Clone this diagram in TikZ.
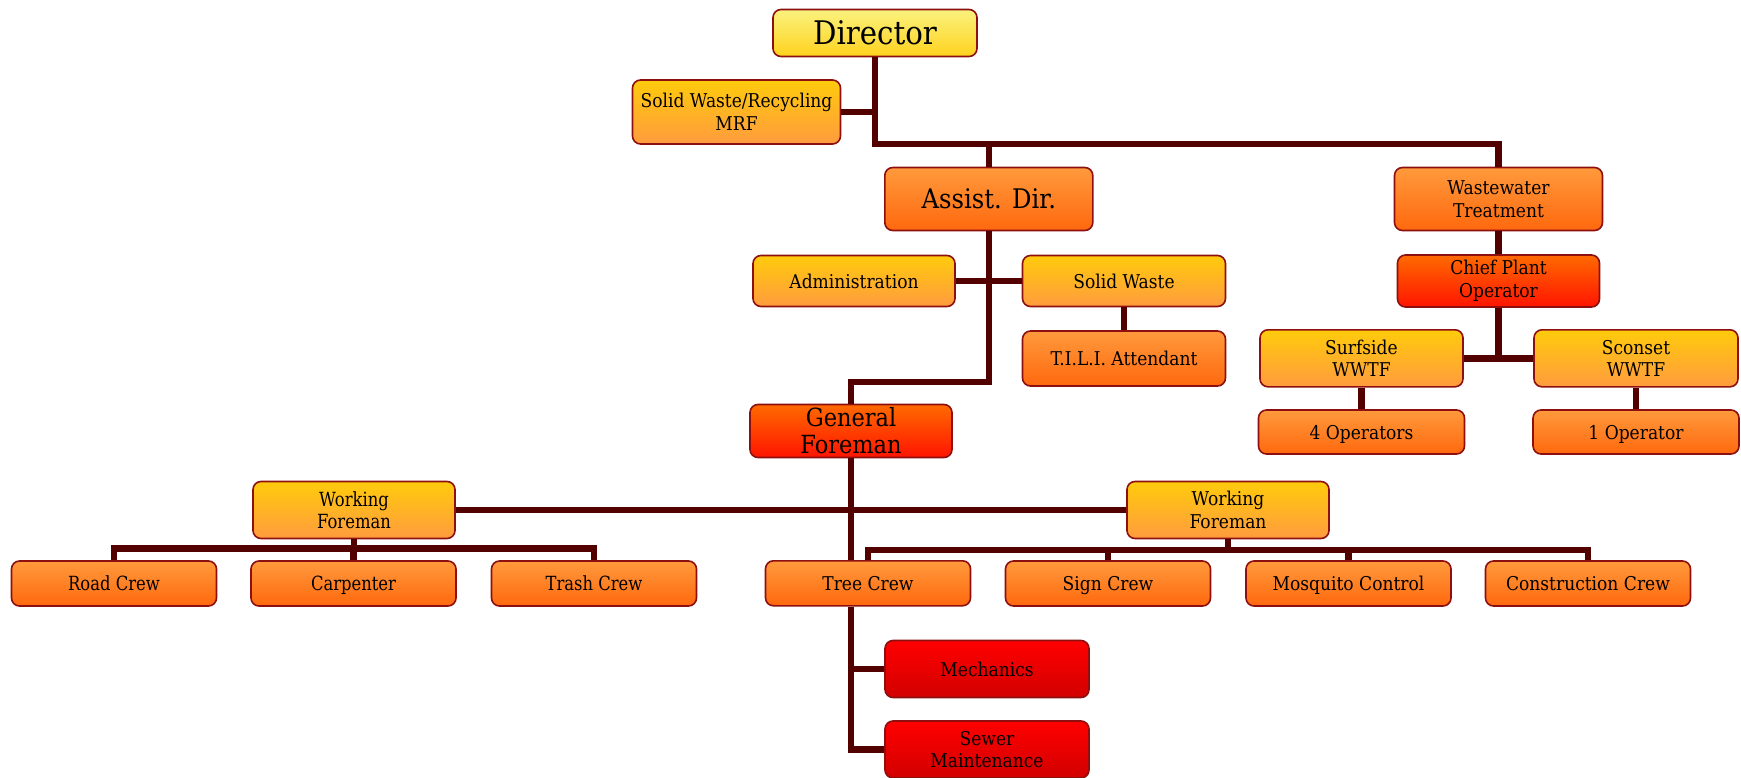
\documentclass[tikz,border=0pt]{standalone}
\usepackage{fontspec}
\setmainfont{DejaVu Serif}[FakeStretch=0.9]
\newfontfamily\condf{DejaVu Serif}[FakeStretch=0.84]
\definecolor{ln}{HTML}{520000}
\definecolor{bd}{HTML}{8E0F0F}
\definecolor{yT}{HTML}{FAF27E}
\definecolor{yB}{HTML}{FFD21E}
\definecolor{gT}{HTML}{FFCB0C}
\definecolor{gB}{HTML}{FF9B3E}
\definecolor{oT}{HTML}{FF9A3C}
\definecolor{oB}{HTML}{FF680E}
\definecolor{rT}{HTML}{FF6A00}
\definecolor{rB}{HTML}{FF1400}
\definecolor{dT}{HTML}{FF0000}
\definecolor{dB}{HTML}{D20000}
\begin{document}
\begin{tikzpicture}[x=1pt,y=-1pt,
  box/.style={draw=bd, line width=1.6pt, rounded corners=8pt, align=center,
    inner sep=0pt, text=black, font=\fontsize{19}{22.5}\selectfont},
  one/.style={text height=16pt, text depth=2pt},
  yel/.style={box, top color=yT, bottom color=yB},
  gold/.style={box, top color=gT, bottom color=gB},
  org/.style={box, top color=oT, bottom color=oB},
  red1/.style={box, top color=rT, bottom color=rB},
  red2/.style={box, top color=dT, bottom color=dB},
  crew/.style={org, one, minimum width=205pt, minimum height=45pt},
  cf/.style={font=\fontsize{19.5}{22.5}\condf},
  conn/.style={draw=ln, line width=6.5pt}]
\useasboundingbox (0,0) rectangle (1741,777);
% top
\node[yel, minimum width=204pt, minimum height=47pt, font=\fontsize{32.5}{36}\selectfont] (dir) at (875,33) {Director};
\node[gold, minimum width=208pt, minimum height=64pt] (mrf) at (736.5,112) {Solid Waste/Recycling\\MRF};
\node[org, minimum width=208pt, minimum height=63pt, font=\fontsize{27}{31}\selectfont] (ad) at (988.8,199) {Assist. Dir.};
\node[org, minimum width=208pt, minimum height=63pt] (ww) at (1498.5,199) {Wastewater\\Treatment};
\node[red1, minimum width=202pt, minimum height=52pt] (cpo) at (1498.5,281) {Chief Plant\\Operator};
\node[gold, minimum width=203pt, minimum height=57pt] (surf) at (1361.5,358.3) {Surfside\\WWTF};
\node[gold, minimum width=204pt, minimum height=57pt] (scon) at (1636,358.3) {Sconset\\WWTF};
\node[org, one, minimum width=206pt, minimum height=44pt] (op4) at (1361.5,432) {4 Operators};
\node[org, one, minimum width=206pt, minimum height=44pt] (op1) at (1636,432) {1 Operator};
\node[gold, one, minimum width=202pt, minimum height=51pt] (adm) at (854,281) {Administration};
\node[gold, one, minimum width=203pt, minimum height=51pt] (sw) at (1124,281) {Solid Waste};
\node[org, one, minimum width=203pt, minimum height=55pt] (tili) at (1124,358.5) {T.I.L.I. Attendant};
\node[red1, minimum width=202pt, minimum height=53pt, font=\fontsize{25}{27}\selectfont] (gf) at (851,431) {General\\Foreman};
\node[gold, minimum width=202pt, minimum height=57pt, cf] (wfl) at (354,510) {Working\\Foreman};
\node[gold, minimum width=202pt, minimum height=57pt] (wfr) at (1228,510) {Working\\Foreman};
\node[crew, cf] (road) at (114,583.5) {Road Crew};
\node[crew, cf] (carp) at (353.5,583.5) {Carpenter};
\node[crew, cf] (trash) at (594,583.5) {Trash Crew};
\node[crew] (tree) at (868,583.3) {Tree Crew};
\node[crew] (sign) at (1108,583.5) {Sign Crew};
\node[crew] (mosq) at (1348.5,583.5) {Mosquito Control};
\node[crew] (cons) at (1588,583.5) {Construction Crew};
\node[red2, one, minimum width=204pt, minimum height=57pt] (mech) at (987,669) {Mechanics};
\node[red2, minimum width=204pt, minimum height=57pt] (sewer) at (987,749.5) {Sewer\\Maintenance};
% connectors
\path (dir.south) ++(0,86.5) coordinate (b1);
\path (ad.south) ++(0,150.5) coordinate (b2);
\path (wfl.south) ++(0,9) coordinate (lb);
\path (wfr.south) ++(0,10.5) coordinate (rb);
\draw[conn] (dir.south) -- (b1) -| (ww.north);
\draw[conn] (ad.north |- b1) -- (ad.north);
\draw[conn] (mrf.east) -- (dir.south |- mrf.east);
\draw[conn] (ad.south) -- (b2) -| (gf.north);
\draw[conn] (adm.east) -- (sw.west);
\draw[conn] (sw.south) -- (tili.north);
\draw[conn] (ww.south) -- (cpo.north);
\draw[conn] (cpo.south) -- (cpo.south |- surf.east);
\draw[conn] (surf.east) -- (scon.west);
\draw[conn] (surf.south) -- (op4.north);
\draw[conn] (scon.south) -- (op1.north);
\draw[conn] (gf.south) -- (gf.south |- tree.north);
\draw[conn] (gf.south |- tree.south) |- (sewer.west);
\draw[conn] (gf.south |- mech.west) -- (mech.west);
\draw[conn] (wfl.east) -- (wfr.west);
\draw[conn] (wfl.south) -- (lb);
\draw[conn] (road.north) |- (trash.north |- lb) -- (trash.north);
\draw[conn] (carp.north) -- (carp.north |- lb);
\draw[conn] (wfr.south) -- (rb);
\draw[conn] (tree.north) |- (cons.north |- rb) -- (cons.north);
\draw[conn] (sign.north) -- (sign.north |- rb);
\draw[conn] (mosq.north) -- (mosq.north |- rb);
\end{tikzpicture}
\end{document}
